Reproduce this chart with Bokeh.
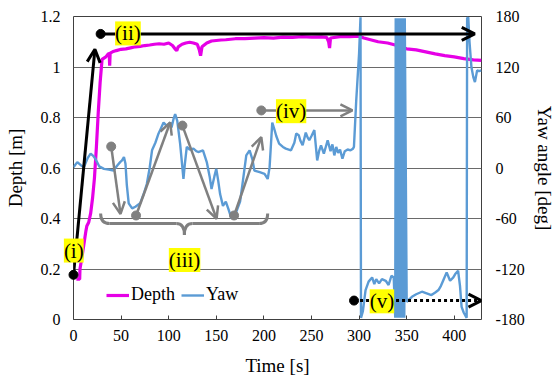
from bokeh.plotting import figure
from bokeh.models import (Range1d, LinearAxis, FixedTicker, CustomJSTickFormatter,
                          Arrow, OpenHead, Legend)
from bokeh.core.properties import value
from bokeh.embed import file_html
from bokeh.resources import INLINE

# ---------------- data ----------------
time_depth = [3, 6.5, 6.8, 9, 11, 13, 14, 16, 18, 20, 22, 24, 26, 28, 30, 32, 34, 36, 37.5, 38, 38.5,
              41, 45, 50, 55, 60, 65, 70, 75, 80, 85, 90, 95, 100, 104, 107, 108.5, 110, 114, 118,
              122, 126, 130, 132, 133.5, 135, 140, 145, 150, 155, 160, 165, 170, 180, 190, 200, 210,
              220, 230, 240, 250, 260, 266, 268, 269, 270, 280, 290, 300, 305, 310, 315, 320, 330,
              340, 345, 350, 360, 370, 380, 390, 400, 410, 420, 428.6]
depth = [0.16, 0.16, 0.20, 0.25, 0.30, 0.35, 0.37, 0.385, 0.42, 0.48, 0.56, 0.68, 0.82, 0.94, 1.03,
         1.035, 1.04, 1.05, 1.055, 1.005, 1.055, 1.06, 1.065, 1.07, 1.072, 1.076, 1.08, 1.082, 1.085,
         1.087, 1.09, 1.092, 1.09, 1.095, 1.085, 1.07, 1.065, 1.08, 1.09, 1.095, 1.098, 1.095, 1.09,
         1.07, 1.045, 1.08, 1.095, 1.103, 1.105, 1.107, 1.108, 1.11, 1.112, 1.112, 1.114, 1.116,
         1.114, 1.118, 1.117, 1.12, 1.118, 1.119, 1.117, 1.10, 1.075, 1.115, 1.12, 1.12, 1.122,
         1.115, 1.11, 1.105, 1.10, 1.095, 1.085, 1.078, 1.072, 1.068, 1.06, 1.052, 1.045, 1.04,
         1.033, 1.028, 1.026]

time_yaw = [0, 4, 8, 11, 15, 18, 21, 23, 27, 32, 37, 42, 46, 49, 51, 53, 54.6, 56, 58, 61.6, 65, 70,
            74, 77, 80, 82.5, 86, 89, 91, 94.6, 98, 101.6, 103, 105, 106.8, 109, 112, 115.5, 117,
            119, 122, 126, 129, 131, 136, 140, 143, 145, 148, 150, 152, 154, 157, 160, 162.5, 166,
            168, 171, 175, 178, 181.5, 185, 188, 190, 195.6, 200.7, 204, 206, 208.8, 211, 213, 216,
            220, 223, 228.5, 232, 234, 236.6, 238.5, 240.7, 244, 246, 247.7, 250, 253, 256, 258,
            260, 263, 265, 267, 270, 272, 274, 276, 278, 280, 282.5, 285, 288, 291, 293.6, 294.6,
            297, 300, 301.5, 302, 304, 306.8, 310, 313.7, 316, 318, 321, 324, 328, 331, 334, 336.4,
            338, 338.5, 339, 339.5, 340, 340.5, 341, 341.5, 342, 342.5, 343, 343.5, 344, 344.5, 345,
            345.5, 347.5, 348, 350, 355.5, 360, 366, 371, 376, 380, 383.4, 386, 388.6, 392, 395.6,
            399, 401, 404, 406, 407.7, 410, 413, 413.5, 414.7, 416, 418, 420, 421.7, 424, 426, 428.6]
yaw = [1, 7, 3, 1, 12, 17, 14, 11, 2, -1, -2, -3, 3, 7, 9, 13, 5, -20, -42, -48, -46, -42,
       -30, -19, 0, 21, 30, 40, 45, 54, 50, 54, 48, 58, 64, 56, 29, -13, 5,
       25, 22, 23, 20, 19, 21, 7, -10, -25, -10, -1, -15, -31, -45, -40, -48, -60,
       -55, -52, -40, -15, 15, 21, 10, -3, -5, -7, -13, 1, 54, 46, 38, 29,
       25, 23, 21, 30, 41, 39, 32, 27, 42, 36, 33, 38, 45, 9, 20,
       27, 17, 25, 33, 20, 28, 15, 25, 18, 22, 11, 20, 22, 21, 23, 25,
       80, 136, 179, -178, -170, -145, -135, -130, -138, -132, -137, -132, -134, -139, -128, -130,
       -178, 178, -178, 178, -178, 178, -178, 178, -178, 178, -178, 178, -178, 178, -178,
       178, -178, 178, -159, -153, -150, -147, -149, -151, -148, -145, -140, -133, -124, -134,
       -130, -126, -122, -140, -165, -172, -178, 178, 179, 150, 120, 108, 102, 116, 115, 116]

x_ticks = [0, 50, 100, 150, 200, 250, 300, 350, 400]
depth_ticks = [0, 0.2, 0.4, 0.6, 0.8, 1.0, 1.2]
yaw_ticks = [-180, -120, -60, 0, 60, 120, 180]

# annotation anchors (time [s], depth [m])
dots_black_x = [0, 28.5, 294.7]
dots_black_y = [0.177, 1.131, 0.075]
dots_gray_x = [39.6, 65.7, 114.4, 168.7, 197.3]
dots_gray_y = [0.685, 0.412, 0.768, 0.412, 0.828]
label_text = ["(i)", "(ii)", "(iii)", "(iv)", "(v)"]
label_x = [0.3, 57.2, 116.7, 228.6, 324]
label_y = [0.273, 1.133, 0.236, 0.825, 0.072]

FONT = "Liberation Serif"
MAGENTA = "#E600E6"
BLUE = "#5B9BD5"
GRAY = "#808080"
GRID = "#6A6A6A"

p = figure(width=557, height=380, output_backend="svg", toolbar_location=None,
           x_range=Range1d(0, 428.6), y_range=Range1d(0, 1.2),
           min_border_left=73, min_border_right=74, min_border_top=16, min_border_bottom=61)
p.extra_y_ranges = {"yaw": Range1d(-180, 180)}
p.background_fill_color = "white"
p.border_fill_color = "white"
p.outline_line_color = "#404040"
p.outline_line_width = 1

p.xgrid.visible = False
p.ygrid.ticker = FixedTicker(ticks=depth_ticks)
p.ygrid.grid_line_color = GRID
p.ygrid.grid_line_width = 1

# bottom axis
xa = p.xaxis[0]
xa.ticker = FixedTicker(ticks=x_ticks)
xa.axis_label = "Time [s]"
xa.major_tick_in = 4
xa.major_tick_out = 0
xa.minor_tick_line_color = None
xa.major_tick_line_color = "#404040"
xa.axis_line_color = None
xa.major_label_standoff = 10
xa.axis_label_standoff = 11

# left axis
ya = p.yaxis[0]
ya.ticker = FixedTicker(ticks=depth_ticks)
ya.formatter = CustomJSTickFormatter(code="return (Math.round(tick*10)/10).toString();")
ya.axis_label = "Depth [m]"
ya.major_tick_in = 0
ya.major_tick_out = 0
ya.minor_tick_line_color = None
ya.major_tick_line_color = None
ya.axis_line_color = None
ya.major_label_standoff = 13
ya.axis_label_standoff = 12

# right axis
ra = LinearAxis(y_range_name="yaw", ticker=FixedTicker(ticks=yaw_ticks),
                formatter=CustomJSTickFormatter(code="return Math.round(tick).toString();"),
                axis_label="Yaw angle [deg]")
ra.major_tick_in = 0
ra.major_tick_out = 0
ra.minor_tick_line_color = None
ra.major_tick_line_color = None
ra.axis_line_color = None
ra.major_label_standoff = 14
ra.axis_label_standoff = 6
p.add_layout(ra, "right")

for ax in [xa, ya, ra]:
    ax.major_label_text_font = FONT
    ax.major_label_text_font_size = "16px"
    ax.major_label_text_color = "black"
    ax.axis_label_text_font = FONT
    ax.axis_label_text_font_size = "19px"
    ax.axis_label_text_font_style = "normal"
    ax.axis_label_text_color = "black"

# data lines
r_depth = p.line(time_depth, depth, line_color=MAGENTA, line_width=3.2)
r_yaw = p.line(time_yaw, yaw, line_color=BLUE, line_width=2.4, y_range_name="yaw")

# curly brace (iii)
p.quadratic(x0=[28.5, 108, 116.5, 195], y0=[0.42, 0.38, 0.335, 0.38],
            x1=[38, 116.5, 125, 204], y1=[0.38, 0.335, 0.38, 0.42],
            cx=[28.5, 116.5, 116.5, 204], cy=[0.38, 0.38, 0.38, 0.38],
            line_color=GRAY, line_width=3)
p.segment(x0=[38, 125], y0=[0.38, 0.38], x1=[108, 195], y1=[0.38, 0.38],
          line_color=GRAY, line_width=3)

# arrows
def arrow(x0, y0, x1, y1, color, width=3, dash="solid", size=13):
    p.add_layout(Arrow(x_start=x0, y_start=y0, x_end=x1, y_end=y1,
                       line_color=color, line_width=width, line_dash=dash,
                       end=OpenHead(size=size, line_color=color, line_width=width)))

arrow(0, 0.177, 22.5, 1.07, "black")
arrow(28.5, 1.131, 421.5, 1.131, "black")
arrow(294.7, 0.075, 428.6, 0.075, "black", dash="3 3")
arrow(39.6, 0.685, 49.4, 0.418, GRAY, 2.5, size=12)
arrow(65.7, 0.412, 101.6, 0.781, GRAY, 2.5, size=12)
arrow(114.4, 0.768, 150.3, 0.399, GRAY, 2.5, size=12)
arrow(168.7, 0.412, 197.3, 0.722, GRAY, 2.5, size=12)
arrow(197.3, 0.828, 293, 0.828, GRAY, 2.5, size=12)

p.scatter(dots_black_x, dots_black_y, size=9, color="black", level="overlay")
p.scatter(dots_gray_x, dots_gray_y, size=9, color=GRAY, level="overlay")

# yellow labels
p.text(x=label_x, y=label_y, text=label_text, text_align="center", text_baseline="middle",
       text_font=value(FONT), text_font_size=value("21px"), text_color="black",
       background_fill_color="#FFFF00", level="overlay")

legend = Legend(items=[("Depth", [r_depth]), ("Yaw", [r_yaw])], orientation="horizontal",
                location=(33, 14), padding=0, margin=0, spacing=6, label_standoff=2,
                glyph_width=23, glyph_height=20, border_line_color=None,
                background_fill_alpha=0, label_text_font=FONT, label_text_font_size="18px",
                label_text_color="black")
p.add_layout(legend)

open("out.html", "w").write(file_html(p, INLINE))
